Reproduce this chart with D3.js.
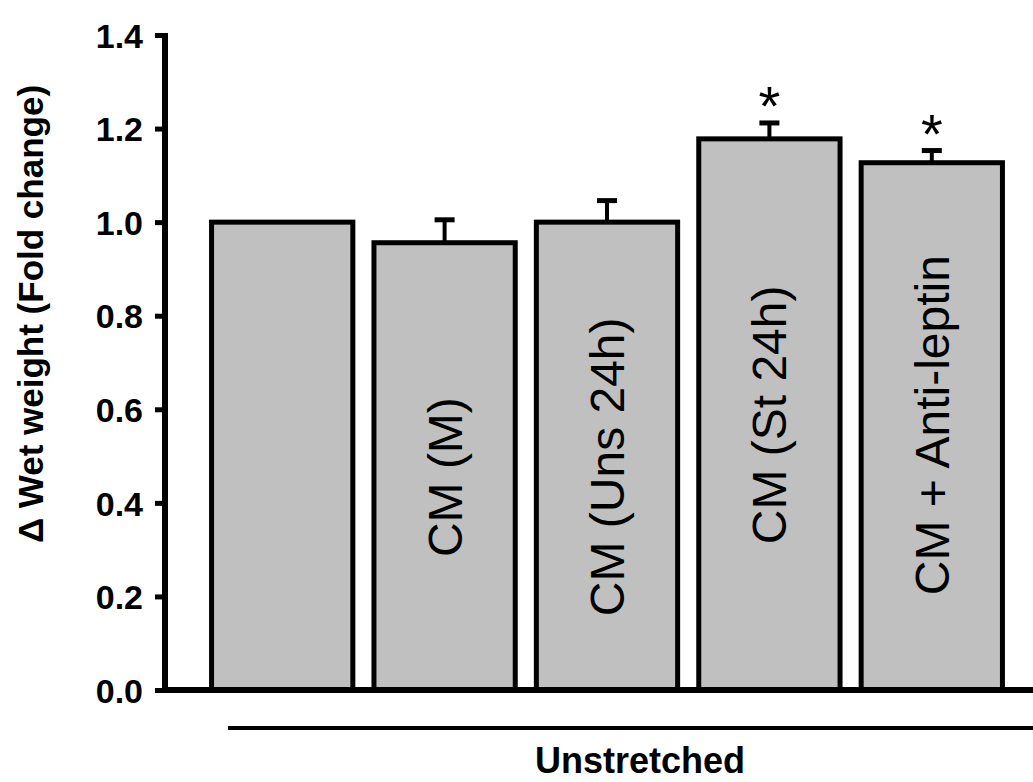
<!DOCTYPE html>
<html>
<head>
<meta charset="utf-8">
<script src="https://cdn.jsdelivr.net/npm/d3@7"></script>
<style>
  body { margin: 0; background: #fff; }
  svg { display: block; font-family: Arial, "Liberation Sans", sans-serif; }
</style>
</head>
<body>
<div id="chart"></div>
<script>
// data
var groups = ["Control", "CM (M)", "CM (Uns 24h)", "CM (St 24h)", "CM + Anti-leptin"];
var barLabels = ["", "CM (M)", "CM (Uns 24h)", "CM (St 24h)", "CM + Anti-leptin"];
var means = [1.00, 0.956, 1.00, 1.178, 1.127];
var sems = [0, 0.049, 0.046, 0.034, 0.026];
var signif = [false, false, false, true, true];
var yTicks = [0, 0.2, 0.4, 0.6, 0.8, 1.0, 1.2, 1.4];
var yTitle = "\u0394 Wet weight (Fold change)";
var groupTitle = "Unstretched";

var width = 1033, height = 782;

var svg = d3.select("#chart")
  .append("svg")
    .attr("width", width)
    .attr("height", height);

// scales
var x = d3.scaleBand()
  .domain(groups)
  .range([201, 1013])
  .paddingInner(0.13)
  .paddingOuter(0.065);

var y = d3.scaleLinear()
  .domain([0, 1.4])
  .range([690, 35]);

// label centres along the bar (value units), set by eye
var labelMid = [0, 0.455, 0.477, 0.588, 0.566];

// bars
svg.append("g")
  .selectAll("rect")
  .data(groups)
  .enter()
  .append("rect")
    .attr("x", function (d) { return x(d); })
    .attr("y", function (d, i) { return y(means[i]); })
    .attr("width", x.bandwidth())
    .attr("height", function (d, i) { return y(0) - y(means[i]); })
    .style("fill", "#c0c0c0")
    .style("stroke", "#000")
    .style("stroke-width", 5);

// error bars (upper only)
var err = svg.append("g");
groups.forEach(function (g, i) {
  if (sems[i] <= 0) return;
  var cx = x(g) + x.bandwidth() / 2;
  err.append("line")
    .attr("x1", cx).attr("x2", cx)
    .attr("y1", y(means[i])).attr("y2", y(means[i] + sems[i]))
    .style("stroke", "#000").style("stroke-width", 4);
  err.append("line")
    .attr("x1", cx - 10).attr("x2", cx + 10)
    .attr("y1", y(means[i] + sems[i])).attr("y2", y(means[i] + sems[i]))
    .style("stroke", "#000").style("stroke-width", 5);
  if (signif[i]) {
    err.append("text")
      .attr("x", cx)
      .attr("y", y(means[i] + sems[i]) + 2)
      .attr("text-anchor", "middle")
      .style("font-size", "56px")
      .text("*");
  }
});

// labels inside bars
svg.append("g")
  .selectAll("text")
  .data(groups)
  .enter()
  .append("text")
    .attr("transform", function (d, i) {
      return "translate(" + (x(d) + x.bandwidth() / 2 + 17) + "," + y(labelMid[i]) + ") rotate(-90)";
    })
    .attr("text-anchor", "middle")
    .style("font-size", "48px")
    .text(function (d, i) { return barLabels[i]; });

// Y axis
var yAxis = svg.append("g")
  .attr("transform", "translate(165,0)")
  .call(d3.axisLeft(y).tickValues(yTicks).tickFormat(d3.format(".1f")).tickSize(10).tickPadding(12));
yAxis.select(".domain").remove();
yAxis.selectAll(".tick line").style("stroke", "#000").style("stroke-width", 5);
yAxis.selectAll(".tick text")
  .style("font-size", "34px")
  .style("font-weight", "bold")
  .attr("dy", "0.36em")
  .style("fill", "#000");

svg.append("line")
  .attr("x1", 165).attr("x2", 165)
  .attr("y1", y(1.4) - 2).attr("y2", y(0) + 3)
  .style("stroke", "#000").style("stroke-width", 6);

// x baseline
svg.append("line")
  .attr("x1", 162).attr("x2", width)
  .attr("y1", y(0)).attr("y2", y(0))
  .style("stroke", "#000").style("stroke-width", 6);

// y title
svg.append("text")
  .attr("transform", "translate(43," + 314 + ") rotate(-90)")
  .attr("text-anchor", "middle")
  .style("font-size", "35px")
  .style("font-weight", "bold")
  .text(yTitle);

// group bracket
svg.append("line")
  .attr("x1", 228).attr("x2", width)
  .attr("y1", 728).attr("y2", 728)
  .style("stroke", "#000").style("stroke-width", 4);

svg.append("text")
  .attr("x", 640)
  .attr("y", 773)
  .attr("text-anchor", "middle")
  .style("font-size", "36px")
  .style("font-weight", "bold")
  .text(groupTitle);
</script>
</body>
</html>
